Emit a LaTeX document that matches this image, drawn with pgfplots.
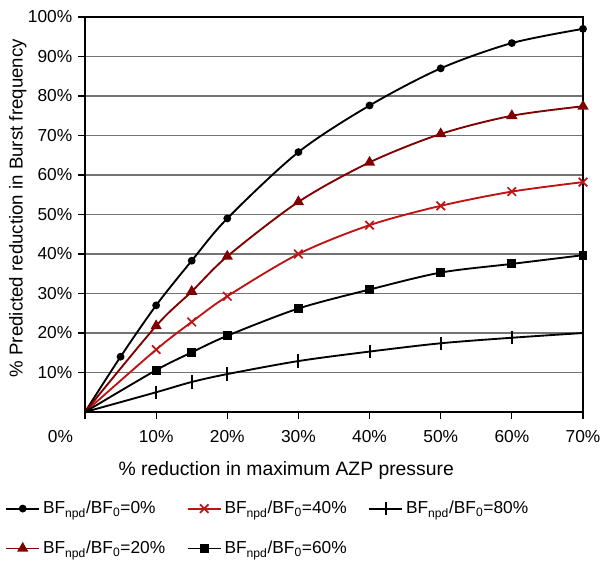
\documentclass[border=0pt]{standalone}
\usepackage{fontspec}
\setmainfont{Liberation Sans}
\usepackage{pgfplots}
\pgfplotsset{compat=1.18}
\definecolor{darkred}{RGB}{128,0,0}
\definecolor{brightred}{RGB}{190,20,20}

\newcommand{\bfratio}[1]{BF\textsubscript{npd}/BF\textsubscript{0}=#1\%}

\begin{document}
\begin{tikzpicture}
% fixed page: 608 x 562 px at 0.75pt per px, axis box at (85..583, 17..412)
\path[use as bounding box] (-63.75pt,-112.5pt) rectangle (392.25pt,309pt);
\begin{axis}[
    at={(0,0)}, anchor=south west,
    scale only axis,
    width=373.5pt, height=296.25pt,
    xmin=0, xmax=70, ymin=0, ymax=100,
    clip=false,
    axis line style={line width=1pt},
    xtick={0,10,20,30,40,50,60,70},
    xticklabels={\llap{0\%\hspace{9pt}},10\%,20\%,30\%,40\%,50\%,60\%,70\%},
    ytick={10,20,30,40,50,60,70,80,90,100},
    yticklabels={10\%,20\%,30\%,40\%,50\%,60\%,70\%,80\%,90\%,100\%},
    tick align=outside, major tick length=5pt,
    tick style={black, line width=0.8pt},
    xtick pos=bottom, ytick pos=left,
    ymajorgrids,
    grid style={black!55, line width=0.8pt},
    ticklabel style={font=\fontsize{13}{15}\selectfont},
    xticklabel style={yshift=-5pt},
    yticklabel style={xshift=-1pt},
    xlabel={\% reduction in maximum AZP pressure},
    xlabel style={at={(axis description cs:0.404,-0.147)}, anchor=center, font=\fontsize{14.5}{17}\selectfont},
    ylabel={\% Predicted reduction in Burst frequency},
    ylabel style={at={(axis description cs:-0.135,0.516)}, anchor=center, font=\fontsize{14}{17}\selectfont},
    every axis plot/.append style={line width=1.4pt, smooth, tension=0.5},
    legend columns=3,
    legend style={at={(axis description cs:-0.161,-0.222)}, anchor=north west,
        draw=none, fill=none, font=\fontsize{13}{15}\selectfont,
        nodes={inner sep=1pt},
        column sep=1pt, /tikz/every even column/.append style={column sep=15pt},
        row sep=17pt, inner sep=0pt},
    legend cell align=left,
    legend image code/.code={%
        \draw[#1, mark=none] (0cm,0cm) -- (0.88cm,0cm);
        \draw[#1, mark indices={2}] plot coordinates {(0cm,0cm)(0.44cm,0cm)(0.88cm,0cm)};},
]
% BFnpd/BF0 = 0%
\addplot[black, mark=*, mark size=2.2pt, mark indices={2,3,4,5,6,7,8,9,10}] coordinates {
    (0,0) (5,14) (10,27) (15,38.3) (20,49) (30,65.8) (40,77.6) (50,87) (60,93.4) (70,97)
};
\addlegendentry{\bfratio{0}}
% BFnpd/BF0 = 40%
\addplot[brightred, mark=x, mark size=4.5pt, mark options={line width=1.3pt}, mark indices={2,3,4,5,6,7,8,9}] coordinates {
    (0,0) (10,15.8) (15,22.8) (20,29.3) (30,40) (40,47.3) (50,52.2) (60,55.8) (70,58.2)
};
\addlegendentry{\bfratio{40}}
% BFnpd/BF0 = 80%
\addplot[black, mark=|, mark size=5pt, mark options={line width=1.6pt}, mark indices={2,3,4,5,6,7,8}] coordinates {
    (0,0) (10,5) (15,7.6) (20,9.6) (30,12.9) (40,15.3) (50,17.4) (60,18.8) (70,20)
};
\addlegendentry{\bfratio{80}}
% BFnpd/BF0 = 20%
\addplot[darkred, mark=triangle*, mark size=3.5pt, mark indices={2,3,4,5,6,7,8,9}] coordinates {
    (0,0) (10,21.8) (15,30.5) (20,39.4) (30,53.2) (40,63.2) (50,70.4) (60,75) (70,77.4)
};
\addlegendentry{\bfratio{20}}
% BFnpd/BF0 = 60%
\addplot[black, mark=square*, mark size=2.6pt, mark indices={2,3,4,5,6,7,8,9}] coordinates {
    (0,0) (10,10.6) (15,15.1) (20,19.3) (30,26.2) (40,31) (50,35.3) (60,37.5) (70,39.7)
};
\addlegendentry{\bfratio{60}}
\end{axis}
\end{tikzpicture}
\end{document}
